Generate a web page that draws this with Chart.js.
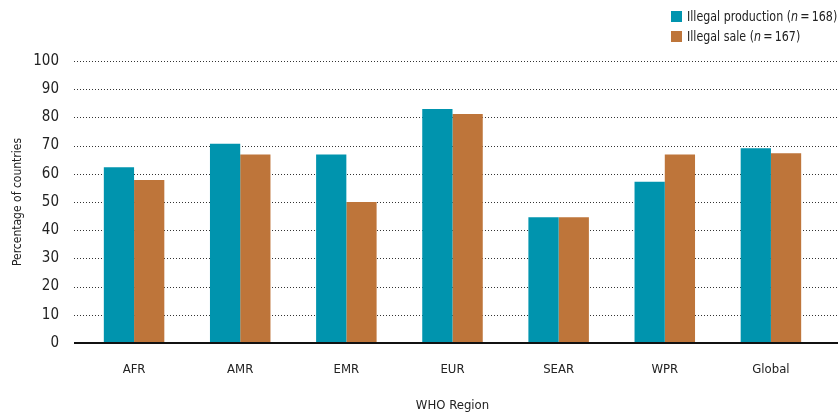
<!DOCTYPE html>
<html>
<head>
<meta charset="utf-8">
<script src="https://cdn.jsdelivr.net/npm/chart.js@4.4.1/dist/chart.umd.min.js"></script>
<style>
  html, body { margin: 0; padding: 0; background: #fff; }
  #wrap { position: relative; width: 840px; height: 413px; }
  #legend { position: absolute; top: 6px; left: 671px; font-family: 'Liberation Sans Narrow', 'DejaVu Sans Condensed', sans-serif; font-size: 14px; color: #222; }
  #legend div { display: flex; align-items: center; height: 20px; white-space: nowrap; }
  #legend span.box { display: inline-block; width: 11px; height: 11px; margin-right: 5px; flex: none; }
  #legend span.txt { display: inline-block; transform: scaleX(0.88); transform-origin: left center; }
</style>
</head>
<body>
<div id="wrap">
  <canvas id="chart" width="840" height="413"></canvas>
  <div id="legend"></div>
</div>
<script>
// data
const regions = ['AFR', 'AMR', 'EMR', 'EUR', 'SEAR', 'WPR', 'Global'];
const illegalProduction = [62.3, 70.7, 66.8, 83.0, 44.6, 57.2, 69.1];
const illegalSale = [57.8, 66.8, 50.0, 81.2, 44.6, 66.8, 67.3];
const seriesNames = ['Illegal production', 'Illegal sale'];
const seriesN = [168, 167];
const seriesColors = ['#0094ae', '#be753a'];

const FONT = "'Liberation Sans Narrow', 'DejaVu Sans Condensed', sans-serif";

// legend with italic n
document.getElementById('legend').innerHTML = seriesNames.map((name, i) =>
  '<div><span class="box" style="background:' + seriesColors[i] + '"></span><span class="txt">' +
  name + ' (<i>n</i>&thinsp;=&thinsp;' + seriesN[i] + ')</span></div>'
).join('');

// dotted gridlines + baseline a bit wider than the bar area
const gridPlugin = {
  id: 'dottedGrid',
  beforeDatasetsDraw(chart) {
    const c = chart.ctx;
    const y = chart.scales.y;
    const x0 = 74, x1 = 838;
    c.save();
    y.ticks.forEach(t => {
      if (t.value === 0) return;
      const py = Math.round(y.getPixelForValue(t.value)) + 0.5;
      c.beginPath();
      c.setLineDash([1, 2]);
      c.strokeStyle = '#333';
      c.lineWidth = 1;
      c.moveTo(x0, py);
      c.lineTo(x1, py);
      c.stroke();
    });
    c.restore();
  },
  afterDatasetsDraw(chart) {
    const c = chart.ctx;
    const py = chart.scales.y.getPixelForValue(0);
    c.save();
    c.beginPath();
    c.strokeStyle = '#111';
    c.lineWidth = 2;
    c.moveTo(74, py);
    c.lineTo(838, py);
    c.stroke();
    c.restore();
  }
};

const ctx = document.getElementById('chart').getContext('2d');
new Chart(ctx, {
  type: 'bar',
  data: {
    labels: regions,
    datasets: [
      { label: seriesNames[0], data: illegalProduction, backgroundColor: seriesColors[0] },
      { label: seriesNames[1], data: illegalSale, backgroundColor: seriesColors[1] }
    ]
  },
  options: {
    responsive: false,
    animation: false,
    layout: { padding: { top: 61, right: 16, left: 0, bottom: 0 } },
    datasets: { bar: { categoryPercentage: 0.57, barPercentage: 1.0 } },
    plugins: {
      legend: { display: false },
      tooltip: { enabled: false }
    },
    scales: {
      x: {
        grid: { display: false },
        border: { display: false },
        ticks: { color: '#222', font: { family: FONT, size: 13 }, padding: 11 },
        title: { display: true, text: 'WHO Region', color: '#222', font: { family: FONT, size: 13 }, padding: { top: 0, bottom: 0 } },
        afterFit(scale) { scale.height = 70; }
      },
      y: {
        min: 0,
        max: 100,
        ticks: { stepSize: 10, color: '#222', font: { family: FONT, size: 15 }, padding: 14 },
        grid: { display: false },
        border: { display: false },
        title: { display: true, text: 'Percentage of countries', color: '#222', font: { family: FONT, size: 12 }, padding: { top: 11, bottom: 0 } },
        afterFit(scale) { scale.width = 81; }
      }
    }
  },
  plugins: [gridPlugin]
});
</script>
</body>
</html>
